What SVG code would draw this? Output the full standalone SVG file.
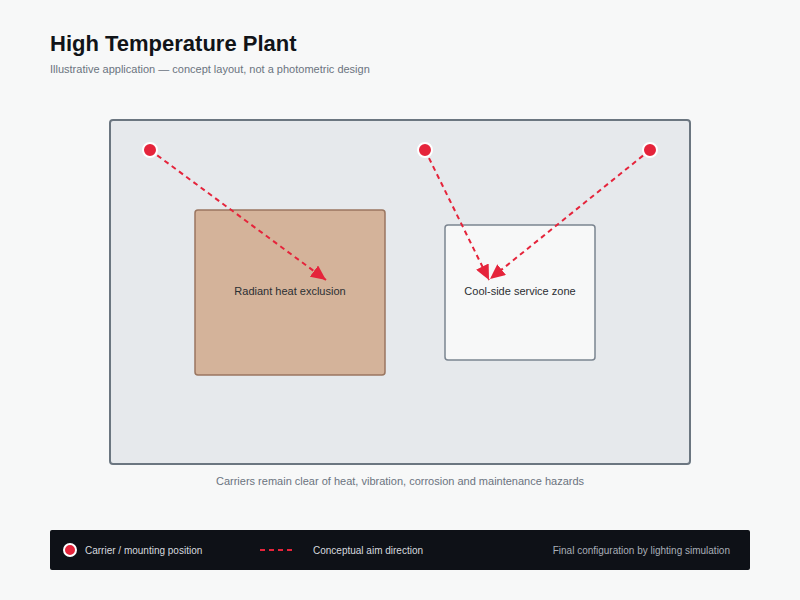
<svg xmlns="http://www.w3.org/2000/svg" width="800" height="600" viewBox="0 0 800 600">
<style>
text{font-family:"Liberation Sans",Arial,sans-serif}
.title{font-size:22px;font-weight:bold;fill:#111418}
.sub{font-size:11px;fill:#6b7480}
.lbl{font-size:11px;fill:#2b2f33;text-anchor:middle}
.cap{font-size:11px;fill:#6b7480;text-anchor:middle}
.leg{font-size:10px;fill:#d6dadf}
.carrier{fill:#e5243b;stroke:#ffffff;stroke-width:2}
.aim{stroke:#e5243b;stroke-width:2;stroke-dasharray:5 4;fill:none}
</style>
<defs>
<marker id="ah" markerUnits="userSpaceOnUse" markerWidth="16" markerHeight="14" refX="15" refY="7" orient="auto">
<path d="M0,0 L15,7 L0,14 Z" fill="#e5243b"/>
</marker>
</defs>
<rect width="800" height="600" fill="#f7f8f8"/>
<text class="title" x="50" y="51">High Temperature Plant</text>
<text class="sub" x="50" y="73">Illustrative application — concept layout, not a photometric design</text>
<g id="plant-area">
<rect x="110" y="120" width="580" height="344" rx="3" fill="#e6e9ec" stroke="#6b7680" stroke-width="2"/>
</g>
<g id="heat-zone">
<rect x="195" y="210" width="190" height="165" rx="3" fill="#d4b39a" stroke="#9a7660" stroke-width="1.5"/>
<text class="lbl" x="290" y="295">Radiant heat exclusion</text>
</g>
<g id="cool-zone">
<rect x="445" y="225" width="150" height="135" rx="3" fill="#f7f8f8" stroke="#7b8590" stroke-width="1.5"/>
<text class="lbl" x="520" y="295">Cool-side service zone</text>
</g>
<g id="connectors">
<line class="aim" x1="150" y1="150" x2="326" y2="280" marker-end="url(#ah)"/>
<line class="aim" x1="425" y1="150" x2="489" y2="280" marker-end="url(#ah)"/>
<line class="aim" x1="650" y1="150" x2="490" y2="279" marker-end="url(#ah)"/>
</g>
<g id="carrier-1"><circle class="carrier" cx="150" cy="150" r="7"/></g>
<g id="carrier-2"><circle class="carrier" cx="425" cy="150" r="7"/></g>
<g id="carrier-3"><circle class="carrier" cx="650" cy="150" r="7"/></g>
<text class="cap" x="400" y="485">Carriers remain clear of heat, vibration, corrosion and maintenance hazards</text>
<g id="legend">
<rect x="50" y="530" width="700" height="40" rx="2" fill="#0e1117"/>
<circle class="carrier" cx="70" cy="550" r="6"/>
<text class="leg" x="85" y="554">Carrier / mounting position</text>
<line class="aim" x1="260" y1="550" x2="296" y2="550"/>
<text class="leg" x="313" y="554">Conceptual aim direction</text>
<text class="leg" x="730" y="554" text-anchor="end" style="fill:#a9afb7">Final configuration by lighting simulation</text>
</g>
</svg>
